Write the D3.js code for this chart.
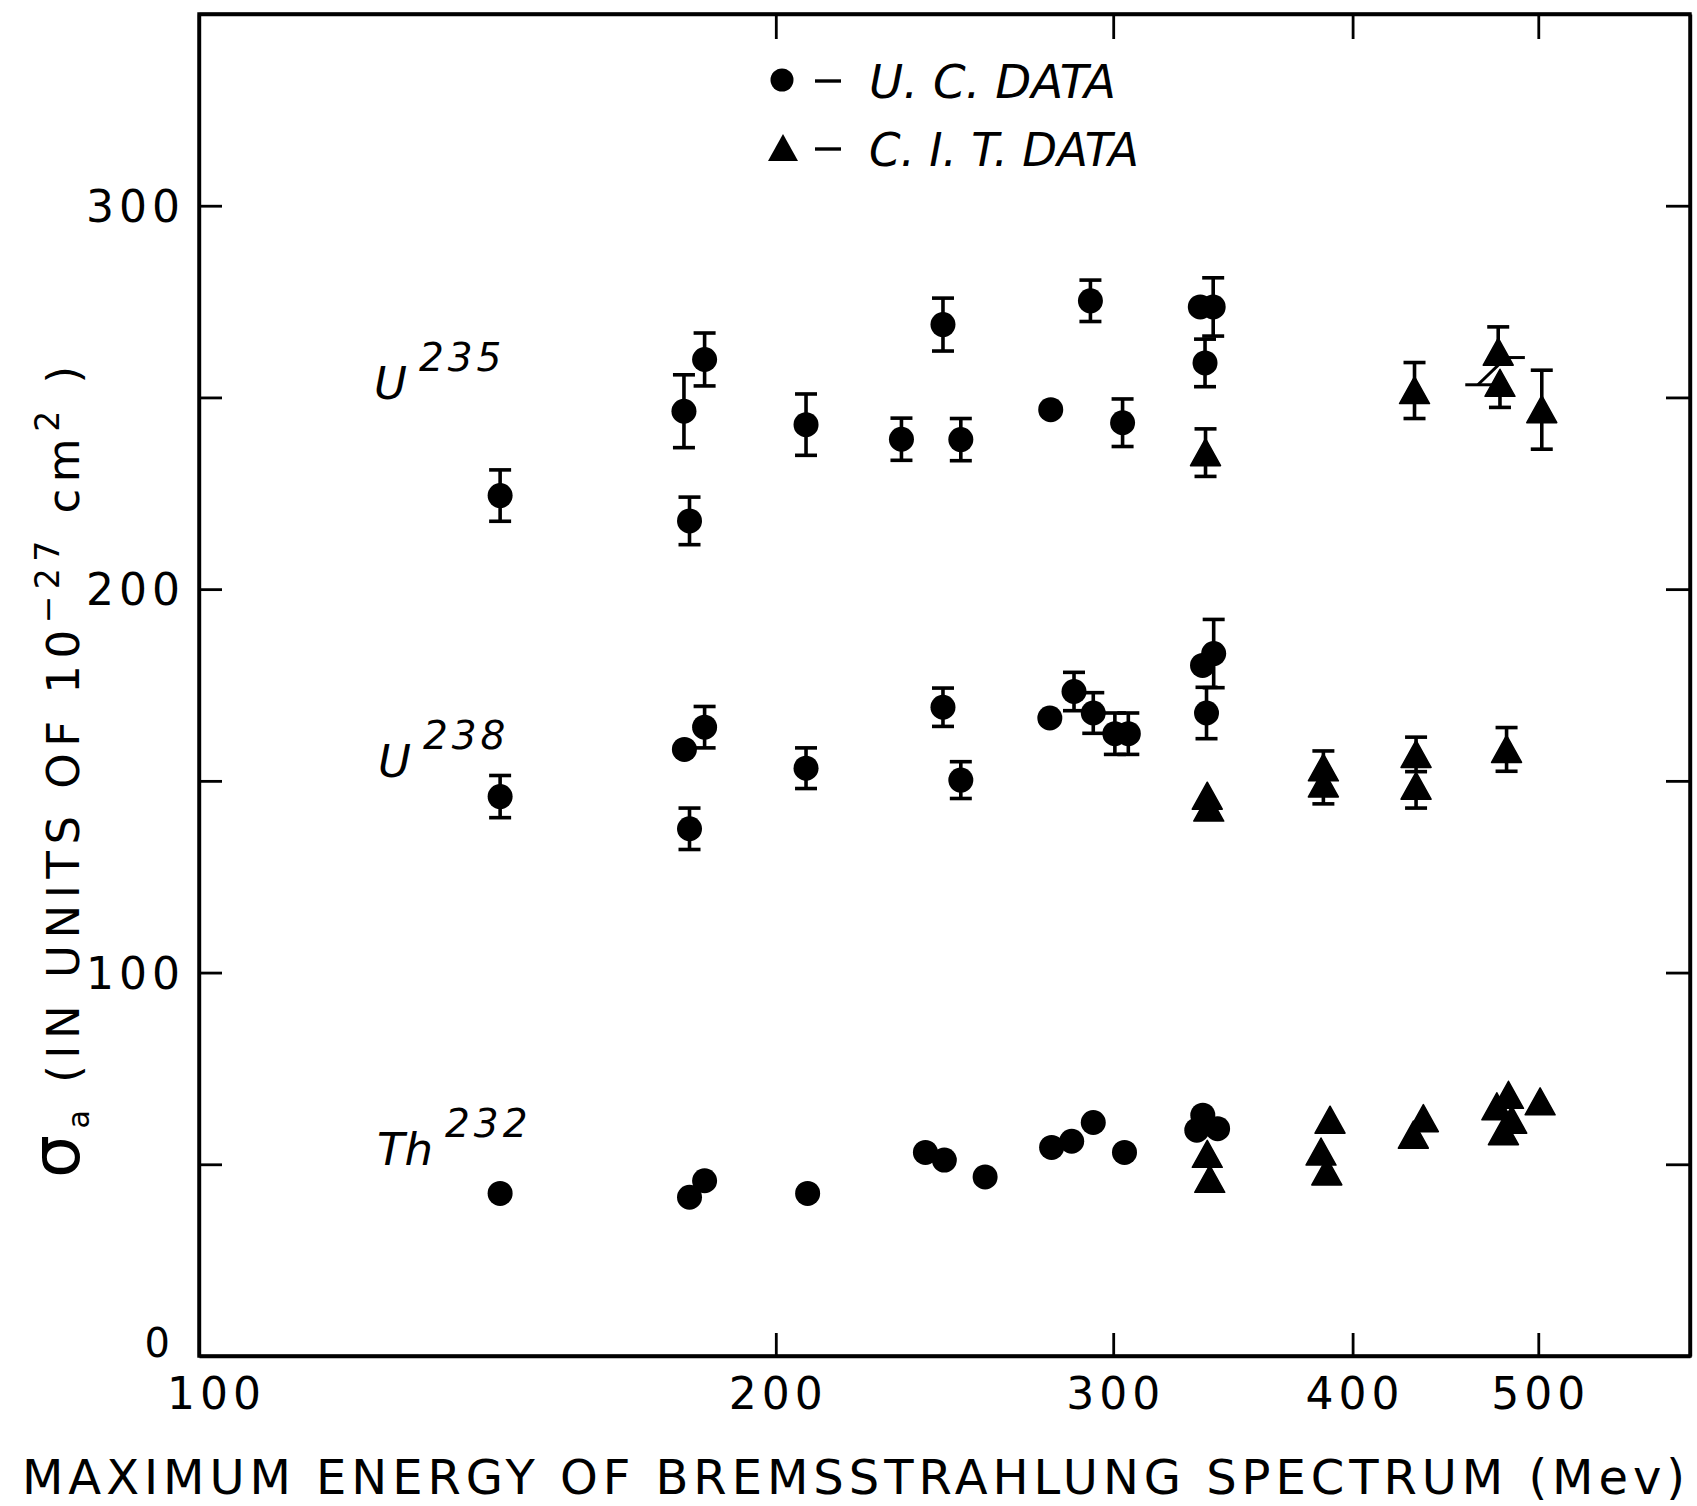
<!DOCTYPE html>
<html><head><meta charset="utf-8">
<script src="https://cdn.jsdelivr.net/npm/d3@7"></script>
<style>body{margin:0;background:#fff} svg{display:block}</style>
</head><body><svg id="chart" width="1697" height="1506"></svg>
<script>
// ---------- data ----------
const xTicks = [100, 200, 300, 400, 500];
const yTicks = [0, 50, 100, 150, 200, 250, 300];
const yLabelValues = [0, 100, 200, 300];

// [energy MeV, sigma, error below, error above]
const u235UC = [
  [143.6,224.4,6.7,6.7],[179.1,246.4,9.5,9.5],[183.6,259.9,6.9,6.9],[180.3,217.8,6.2,6.2],
  [207.4,242.9,8.0,8.0],[244.5,269.0,6.9,6.9],[232.6,239.1,5.5,5.5],[249.8,239.0,5.5,5.5],
  [291.9,275.2,5.4,5.4],[278.3,246.8,0,0],[303.4,243.4,6.2,6.2],[333.1,273.6,0,0],
  [338.3,273.6,7.6,7.6],[335.0,259.0,6.2,6.2]
];
const u235CIT = [
  [335.2,235.6,6.2,6.2],[430.9,251.8,7.3,7.3],[476.5,261.8,0,6.6],[477.5,253.7,6.3,0],[502.1,246.8,10.3,10.3]
];
const u238UC = [
  [143.6,145.9,5.5,5.5],[179.2,158.2,0,0],[183.6,164.0,5.4,5.4],[180.3,137.5,5.4,5.4],
  [207.4,153.3,5.3,5.3],[244.5,169.2,5.0,5.0],[249.8,150.2,4.8,4.8],[278.0,166.4,0,0],
  [286.2,173.3,5.0,5.0],[292.9,167.7,5.3,5.3],[300.6,162.3,5.4,5.4],[305.5,162.3,5.4,5.4],
  [334.0,180.1,0,0],[338.5,183.2,8.9,8.9],[335.6,167.7,6.7,6.7]
];
const u238CIT = [
  [335.9,146.0,0,0],[336.5,142.9,0,0],[386.2,153.4,0,4.4],[386.2,149.2,5.2,0],
  [431.7,156.9,4.5,4.5],[431.7,148.6,5.7,0],[481.3,158.2,5.7,5.7]
];
const th232UC = [
  [143.6,42.4],[180.3,41.4],[183.6,45.7],[207.8,42.4],[239.4,53.1],[244.9,51.1],[257.2,46.7],
  [278.6,54.4],[285.4,56.0],[292.9,60.9],[304.1,53.1],[334.1,62.8],[331.7,58.9],[340.1,59.3]
];
const th232CIT = [
  [335.9,52.6],[336.9,46.1],[389.3,61.5],[385.1,53.2],[387.8,48.0],[435.5,61.9],[430.3,57.6],
  [482.4,68.0],[475.7,65.0],[484.3,61.5],[479.5,58.5],[501.1,66.3]
];
// hand-drawn offset mark next to the U235 C.I.T. points near 480 MeV
const markLines = [
  [[458,253.3],[474,253.3]], [[465,253.3],[481,260.4]], [[481,260.4],[492,260.4]]
];
const isotopes = [
  {base:"U", sup:"235", at:[374,399]},
  {base:"U", sup:"238", at:[378,777]},
  {base:"Th", sup:"232", at:[377,1165]}
];
const legendItems = [
  {shape:"circle", label:"U. C. DATA"},
  {shape:"triangle", label:"C. I. T. DATA"}
];

// ---------- layout ----------
const svg = d3.select("#chart");
svg.append("rect").attr("width",1697).attr("height",1506).attr("fill","#fff");
const L = 199, R = 1690, T = 14, B = 1356;
const x = d3.scaleLog().domain([100, 600]).range([L, R]);
const y = d3.scaleLinear().domain([0, 350]).range([B, T]);
const FONT = "'DejaVu Sans', sans-serif";
const SW = 3.4;

// axes
const gB = svg.append("g").attr("transform",`translate(0,${B})`)
  .call(d3.axisBottom(x).tickValues(xTicks).tickSizeInner(-23).tickSizeOuter(0).tickPadding(22)
        .tickFormat(d3.format("d")));
const gT = svg.append("g").attr("transform",`translate(0,${T})`)
  .call(d3.axisTop(x).tickValues(xTicks.slice(1)).tickSizeInner(-25).tickSizeOuter(0).tickFormat(""));
const gL = svg.append("g").attr("transform",`translate(${L},0)`)
  .call(d3.axisLeft(y).tickValues(yTicks).tickSizeInner(-23).tickSizeOuter(0).tickPadding(14)
        .tickFormat(d => yLabelValues.includes(d) ? d : ""));
const gR = svg.append("g").attr("transform",`translate(${R},0)`)
  .call(d3.axisRight(y).tickValues(yTicks.slice(1)).tickSizeInner(-24).tickSizeOuter(0).tickFormat(""));
[gB,gT,gL,gR].forEach(g => {
  g.selectAll(".domain").attr("stroke","#000").attr("stroke-width",SW);
  g.selectAll(".tick line").attr("stroke","#000").attr("stroke-width",2.8);
  g.selectAll(".tick text").attr("fill","#000").attr("font-family",FONT)
    .attr("font-size",44).attr("letter-spacing",5);
});
gB.selectAll(".tick text").attr("dx", d => d === 100 ? 17 : 2);
gL.selectAll(".tick text").attr("dy","0.36em");
gL.selectAll(".tick text").filter(d => d === 0)
  .attr("font-size",40).attr("letter-spacing",0).attr("dy","0.02em").attr("dx",-15);
gB.selectAll(".tick").filter(d => d === 100).select("line").remove();
gL.selectAll(".tick").filter(d => d === 0).select("line").remove();
// frame
svg.append("path").attr("d",`M${L},${T}H${R}V${B}H${L}Z`).attr("fill","none")
  .attr("stroke","#000").attr("stroke-width",SW);

// marker helpers
const tri = "M0,-14L15,13L-15,13Z";
function errorBars(data) {
  const g = svg.append("g").attr("stroke","#000").attr("stroke-width",3.6).attr("fill","none");
  data.forEach(d => {
    const [e, s, lo, hi] = d;
    if (!lo && !hi) return;
    const cx = x(e);
    g.append("line").attr("x1",cx).attr("x2",cx).attr("y1",y(s - lo)).attr("y2",y(s + hi));
    if (lo) g.append("line").attr("x1",cx-11).attr("x2",cx+11).attr("y1",y(s-lo)).attr("y2",y(s-lo));
    if (hi) g.append("line").attr("x1",cx-11).attr("x2",cx+11).attr("y1",y(s+hi)).attr("y2",y(s+hi));
  });
}
function circles(data) {
  svg.append("g").selectAll("circle").data(data).join("circle")
    .attr("cx", d => x(d[0])).attr("cy", d => y(d[1])).attr("r", 12.5).attr("fill","#000");
}
function triangles(data) {
  svg.append("g").selectAll("path").data(data).join("path")
    .attr("d", tri).attr("transform", d => `translate(${x(d[0])},${y(d[1])})`)
    .attr("fill","#000").attr("stroke","#000").attr("stroke-width",1.5).attr("stroke-linejoin","round");
}
[u235UC,u235CIT,u238UC,u238CIT].forEach(errorBars);
circles(u235UC); circles(u238UC); circles(th232UC);
triangles(u235CIT); triangles(u238CIT); triangles(th232CIT);
svg.append("g").selectAll("line").data(markLines).join("line")
  .attr("x1", d => x(d[0][0])).attr("y1", d => y(d[0][1]))
  .attr("x2", d => x(d[1][0])).attr("y2", d => y(d[1][1]))
  .attr("stroke","#000").attr("stroke-width",3);

// isotope labels
isotopes.forEach(o => {
  const t = svg.append("text").attr("x",o.at[0]).attr("y",o.at[1])
    .attr("font-family",FONT).attr("font-style","italic").attr("font-size",45).attr("fill","#000");
  t.append("tspan").text(o.base);
  t.append("tspan").text(o.sup).attr("font-size",39).attr("dx",12).attr("dy",-28).attr("letter-spacing",4);
});

// legend
legendItems.forEach((it, i) => {
  const cy = 80 + i * 68;
  if (it.shape === "circle") svg.append("circle").attr("cx",782).attr("cy",cy).attr("r",11.5).attr("fill","#000");
  else svg.append("path").attr("d",tri).attr("transform",`translate(783,${cy})`).attr("fill","#000");
  svg.append("line").attr("x1",815).attr("x2",841).attr("y1",cy+1).attr("y2",cy+1)
    .attr("stroke","#000").attr("stroke-width",3.4);
  svg.append("text").attr("x",869).attr("y",cy+18).text(it.label)
    .attr("font-family",FONT).attr("font-style","italic").attr("font-size",47).attr("fill","#000")
    .attr("textLength", i === 0 ? 247 : 270).attr("lengthAdjust","spacingAndGlyphs");
});

// x-axis title
svg.append("text").attr("x",22).attr("y",1494)
  .text("MAXIMUM ENERGY OF BREMSSTRAHLUNG SPECTRUM (Mev)")
  .attr("font-family",FONT).attr("font-size",48).attr("fill","#000")
  .attr("textLength",1663).attr("lengthAdjust","spacing");

// y-axis title (rotated)
const yt = svg.append("text").attr("transform","translate(79,1178) rotate(-90)")
  .attr("font-family",FONT).attr("font-size",45).attr("fill","#000")
  .attr("textLength",812).attr("lengthAdjust","spacing");
yt.append("tspan").text("σ").attr("font-size",68);
yt.append("tspan").text("a").attr("font-size",30).attr("dy",10);
yt.append("tspan").text(" (IN UNITS OF 10").attr("dy",-10);
yt.append("tspan").text("−27").attr("font-size",33).attr("dy",-20);
yt.append("tspan").text(" cm").attr("dy",20);
yt.append("tspan").text("2").attr("font-size",33).attr("dy",-20);
yt.append("tspan").text(" )").attr("dy",20);
</script></body></html>
